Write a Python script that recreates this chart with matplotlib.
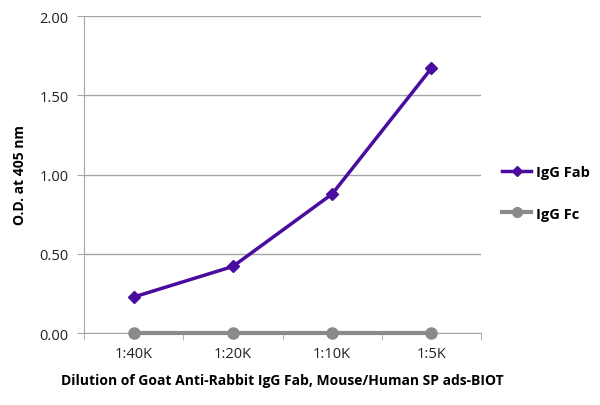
import matplotlib
matplotlib.use("Agg")
import matplotlib.pyplot as plt
from matplotlib.lines import Line2D

plt.rcParams['font.family'] = ['Open Sans', 'DejaVu Sans']

dilutions = ['1:40K', '1:20K', '1:10K', '1:5K']
igg_fab = [0.227, 0.42, 0.877, 1.67]
igg_fc = [0.0, 0.0, 0.0, 0.0]

PURPLE = '#4a0c9e'
GREY = '#8a8a8a'
GRID = '#a6a6a6'


def main():
    fig = plt.figure(figsize=(6, 4.06), dpi=100)
    ax = fig.add_axes([0.14, 0.1773, 0.6617, 0.7808])

    x = list(range(len(dilutions)))
    ax.plot(x, igg_fc, color=GREY, lw=3, marker='o', ms=8, zorder=3, clip_on=False)
    ax.plot(x, igg_fab, color=PURPLE, lw=2.5, marker='D', ms=6, zorder=4, clip_on=False)

    ax.set_xlim(-0.5, 3.5)
    ax.set_ylim(0, 2)
    ax.set_yticks([0, 0.5, 1.0, 1.5, 2.0])
    ax.set_yticklabels(['0.00', '0.50', '1.00', '1.50', '2.00'])
    ax.set_xticks(x)
    ax.set_xticklabels(dilutions)
    ax.set_xticks([-0.5, 0.5, 1.5, 2.5, 3.5], minor=True)
    ax.tick_params(axis='x', which='major', length=0, pad=9, labelsize=10.5, colors='#222222')
    ax.tick_params(axis='x', which='minor', length=5, color=GRID, direction='out')
    ax.tick_params(axis='y', length=5, color=GRID, labelsize=10.5, colors='#222222', pad=6)

    ax.grid(axis='y', color=GRID, lw=1)
    ax.set_axisbelow(True)
    for s in ['top', 'right']:
        ax.spines[s].set_visible(False)
    ax.spines['left'].set_color(GRID)
    ax.spines['bottom'].set_color(GRID)

    ax.set_ylabel('O.D. at 405 nm', fontsize=10, fontweight='bold', labelpad=9)
    ax.set_xlabel('Dilution of Goat Anti-Rabbit IgG Fab, Mouse/Human SP ads-BIOT',
                  fontsize=10, fontweight='bold', labelpad=9)

    handles = [
        Line2D([], [], color=PURPLE, lw=2.5, marker='D', ms=5),
        Line2D([], [], color=GREY, lw=3, marker='o', ms=7),
    ]
    fig.legend(handles, ['IgG Fab', 'IgG Fc'], loc='center left',
               bbox_to_anchor=(0.815, 0.523), frameon=False, handlelength=2.0,
               handletextpad=0.3, labelspacing=1.9,
               prop={'weight': 'bold', 'size': 10.5})

    fig.savefig('out.png', dpi=100)


if __name__ == "__main__":
    main()
